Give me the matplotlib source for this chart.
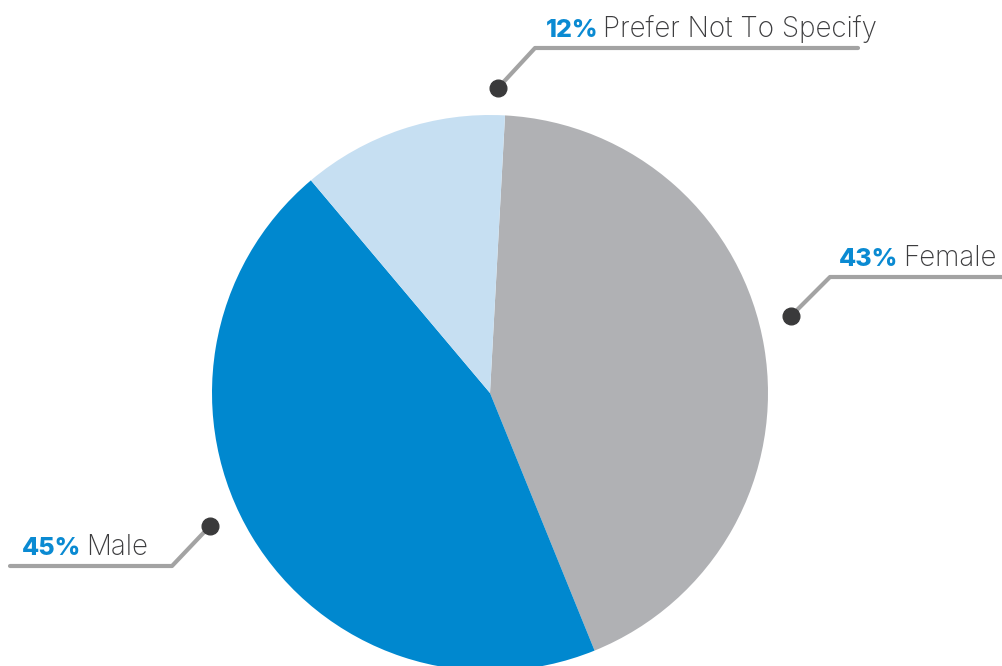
import matplotlib.pyplot as plt

# gender split of respondents
labels = ['Female', 'Male', 'Prefer Not To Specify']
shares = [43, 45, 12]
colors = ['#b0b1b4', '#0088cf', '#c6dff2']

# callout layout in pixel coords (y measured from top): dot, elbow, line end, text side
dots = [(791, 316), (210, 526), (498, 88)]
elbows = [(830, 277), (172, 566), (535, 48)]
line_ends = [1003, 10, 858]
text_x = [839, 22, 546]

W, H = 1003, 666
fig = plt.figure(figsize=(W / 100, H / 100), dpi=100)
ax = fig.add_axes([0, 0, 1, 1])

ax.pie(shares, colors=colors, startangle=86.9, counterclock=False,
       center=(490, H - 393), radius=278, frame=True,
       wedgeprops={'linewidth': 0})
ax.set_xlim(0, W)
ax.set_ylim(0, H)
ax.set_aspect('equal')
ax.axis('off')

font = 'Inter'
renderer = fig.canvas.get_renderer()
for lab, val, d, e, le, tx in zip(labels, shares, dots, elbows, line_ends, text_x):
    ax.plot([d[0], e[0], le], [H - d[1], H - e[1], H - e[1]], color='#a3a3a3',
            lw=3, solid_capstyle='round', zorder=3)
    ax.plot(d[0], H - d[1], 'o', color='#3a3a3b', ms=12, zorder=4)
    base = H - e[1] + 11
    t = ax.text(tx, base, f'{val}%', fontsize=18, fontweight='heavy',
                color='#0a8ad2', family=font, va='baseline', ha='left')
    bb = t.get_window_extent(renderer)
    ax.text(bb.x1 + 5, base, lab, fontsize=20, fontweight='light',
            color='#3d3d3f', family=font, va='baseline', ha='left')

fig.savefig('out.png', dpi=100)
